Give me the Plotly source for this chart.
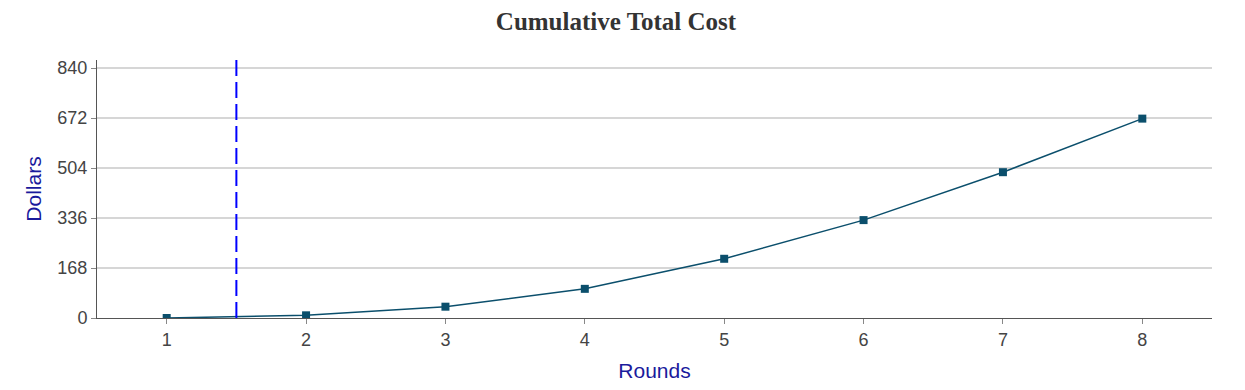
import plotly.graph_objects as go

rounds = [1, 2, 3, 4, 5, 6, 7, 8]
cumulative_cost = [0, 9, 38, 98, 199, 329, 490, 670]
y_ticks = [0, 168, 336, 504, 672, 840]
x_ticks = [1, 2, 3, 4, 5, 6, 7, 8]
marker_round = 1.5

fig = go.Figure()
fig.add_trace(go.Scatter(
    x=rounds, y=cumulative_cost, mode="lines+markers",
    line=dict(color="#0b4f6c", width=1.5),
    marker=dict(symbol="square", size=8, color="#0b4f6c"),
    showlegend=False,
))
fig.add_shape(type="line", x0=marker_round, x1=marker_round, y0=0, y1=1,
              xref="x", yref="paper",
              line=dict(color="#0000ff", width=2, dash="16px,6px"))

fig.update_layout(
    width=1237, height=382,
    margin=dict(l=89, r=33, t=52, b=64),
    paper_bgcolor="white", plot_bgcolor="white",
    title=dict(text="<b>Cumulative Total Cost</b>", x=0.4915, xanchor="center",
               y=0.965, yanchor="middle",
               font=dict(family="Liberation Serif, Times New Roman, serif", size=25, color="#333333")),
    xaxis=dict(range=[0.5, 8.5], tickvals=x_ticks, showgrid=False,
               showline=True, linecolor="#555555", linewidth=1,
               ticks="outside", ticklen=5, tickcolor="#888888",
               tickfont=dict(family="Liberation Sans, Arial, sans-serif", size=18, color="#444444"),
               title=dict(text="Rounds", standoff=14,
                          font=dict(family="Liberation Sans, Arial, sans-serif", size=21, color="#1a1a9c")),
               zeroline=False),
    yaxis=dict(range=[0, 867], tickvals=y_ticks, showgrid=True, gridcolor="#d6d6d6", gridwidth=2,
               showline=True, linecolor="#555555", linewidth=1,
               ticks="outside", ticklen=5, tickcolor="#888888",
               tickfont=dict(family="Liberation Sans, Arial, sans-serif", size=18, color="#444444"),
               title=dict(text="Dollars", standoff=10,
                          font=dict(family="Liberation Sans, Arial, sans-serif", size=21, color="#1a1a9c")),
               zeroline=False),
)

fig.write_html("out.html")
